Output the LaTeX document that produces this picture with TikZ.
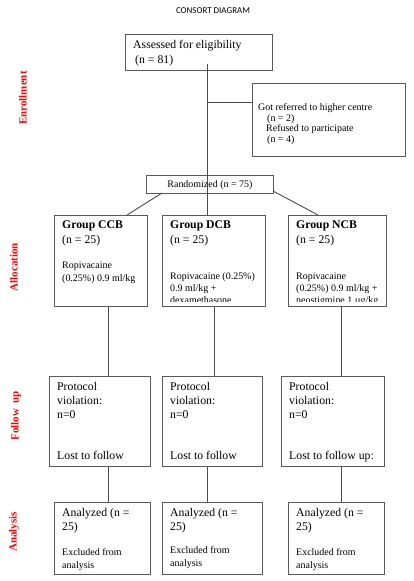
\documentclass[tikz,border=0pt]{standalone}
\usepackage{fontspec}
\setmainfont{Liberation Serif}
\newfontfamily\titlefont{Carlito}
\begin{document}
\begin{tikzpicture}[x=1bp,y=-1bp,
  box/.style={draw=black!65, line width=0.9bp, inner sep=0pt, anchor=north west},
  conn/.style={draw=black!70, line width=0.9bp},
  big/.style={anchor=base west, inner sep=0pt, font=\fontsize{11.8}{14}\selectfont},
  small/.style={anchor=base west, inner sep=0pt, font=\fontsize{10}{12}\selectfont},
  bold/.style={anchor=base west, inner sep=0pt, font=\bfseries\fontsize{11.8}{14}\selectfont},
  side/.style={rotate=90, text=red, font=\bfseries\fontsize{11}{13}\selectfont, inner sep=0pt}]
\useasboundingbox (0,0) rectangle (413,581);

% title
\node[inner sep=0pt, font=\titlefont\fontsize{9}{10}\selectfont] (title) at (213,11) {CONSORT DIAGRAM};

% side labels
\node[side] (lenr) at (23,98) {Enrollment};
\node[side] (lall) at (14,267) {Allocation};
\node[side] (lfol) at (16,416) {Follow\ \ up};
\node[side] (lana) at (14,532) {Analysis};

% boxes
\node[box, minimum width=147bp, minimum height=36bp] (assess) at (125,34) {};
\node[box, minimum width=153bp, minimum height=73bp] (excl) at (252,83) {};
\node[box, minimum width=127bp, minimum height=18bp] (rand) at (146,175) {};
\node[box, minimum width=93bp, minimum height=91bp] (ccb) at (54,215) {};
\node[box, minimum width=103bp, minimum height=91bp] (dcb) at (162,215) {};
\node[box, minimum width=98bp, minimum height=91bp] (ncb) at (288,215) {};
\node[box, minimum width=101bp, minimum height=90bp] (fccb) at (49,376) {};
\node[box, minimum width=100bp, minimum height=90bp] (fdcb) at (162,376) {};
\node[box, minimum width=103bp, minimum height=90bp] (fncb) at (281,376) {};
\node[box, minimum width=96bp, minimum height=72bp] (accb) at (54,502) {};
\node[box, minimum width=100bp, minimum height=72bp] (adcb) at (162,502) {};
\node[box, minimum width=96bp, minimum height=72bp] (ancb) at (288,502) {};

% connectors
\coordinate (top) at (207,64);
\coordinate (exclin) at (252,102);
\draw[conn] (top) -- (top |- dcb.north);
\draw[conn] (exclin -| top) -- (exclin);
\coordinate (rl) at (162,193);
\coordinate (rr) at (273,191);
\coordinate (cl) at (127,215);
\coordinate (cr) at (318,215);
\draw[conn] (rl) -- (cl);
\draw[conn] (rr) -- (cr);
\coordinate (x1) at (108,0);
\coordinate (x2) at (214,0);
\coordinate (x3) at (341,0);
\coordinate (x4) at (207,0);
\draw[conn] (x1 |- ccb.south) -- (x1 |- fccb.north);
\draw[conn] (x2 |- dcb.south) -- (x2 |- fdcb.north);
\draw[conn] (x3 |- ncb.south) -- (x3 |- fncb.north);
\draw[conn] (x1 |- fccb.south) -- (x1 |- accb.north);
\draw[conn] (x4 |- fdcb.south) -- (x4 |- adcb.north);
\draw[conn] (x3 |- fncb.south) -- (x3 |- ancb.north);

% texts
\node[big] (t1) at (133,48.7) {Assessed for eligibility};
\node[big] (t2) at (135,64) {(n = 81)};
\node[small] (e1) at (258,111) {Got referred to higher centre};
\node[small] (e2) at (267,122) {(n = 2)};
\node[small] (e3) at (266,132) {Refused to participate};
\node[small] (e4) at (267,143) {(n = 4)};
\node[inner sep=0pt, font=\fontsize{10}{12}\selectfont] (rt) at ([yshift=-0.5bp]rand.center) {Randomized (n = 75)};

\node[bold] (g1) at (62,228) {Group CCB};
\node[big] (g1n) at (62,243) {(n = 25)};
\node[small] (g1a) at (62,268) {Ropivacaine};
\node[small] (g1b) at (62,281) {(0.25\%) 0.9 ml/kg};

\node[bold] (g2) at (170,228) {Group DCB};
\node[big] (g2n) at (170,243) {(n = 25)};
\node[bold] (g3) at (296,228) {Group NCB};
\node[big] (g3n) at (296,243) {(n = 25)};
\begin{scope}
\clip (160,210) rectangle (390,301.5);
\node[small] (g2a) at (170,279) {Ropivacaine (0.25\%)};
\node[small] (g2b) at (170,291) {0.9 ml/kg +};
\node[small] (g2c) at (170,303.5) {dexamethasone};
\node[small] (g3a) at (296,279) {Ropivacaine};
\node[small] (g3b) at (296,291) {(0.25\%) 0.9 ml/kg +};
\node[small] (g3c) at (296,303.5) {neostigmine 1 µg/kg};
\end{scope}

\node[big] (f1a) at (57,390) {Protocol};
\node[big] (f1b) at (57,404) {violation:};
\node[big] (f1c) at (57,418) {n=0};
\node[big] (f1d) at (57,459) {Lost to follow};
\node[big] (f2a) at (170,390) {Protocol};
\node[big] (f2b) at (170,404) {violation:};
\node[big] (f2c) at (170,418) {n=0};
\node[big] (f2d) at (170,459) {Lost to follow};
\node[big] (f3a) at (289,390) {Protocol};
\node[big] (f3b) at (289,404) {violation:};
\node[big] (f3c) at (289,418) {n=0};
\node[big] (f3d) at (289,459) {Lost to follow up:};

\node[big] (a1a) at (62,516) {Analyzed (n =};
\node[big] (a1b) at (62,530) {25)};
\node[small] (a1c) at (62,555) {Excluded from};
\node[small] (a1d) at (62,568) {analysis};
\node[big] (a2a) at (170,516) {Analyzed (n =};
\node[big] (a2b) at (170,530) {25)};
\node[small] (a2c) at (170,553) {Excluded from};
\node[small] (a2d) at (170,566) {analysis};
\node[big] (a3a) at (296,516) {Analyzed (n =};
\node[big] (a3b) at (296,530) {25)};
\node[small] (a3c) at (296,555) {Excluded from};
\node[small] (a3d) at (296,568) {analysis};
\end{tikzpicture}
\end{document}
